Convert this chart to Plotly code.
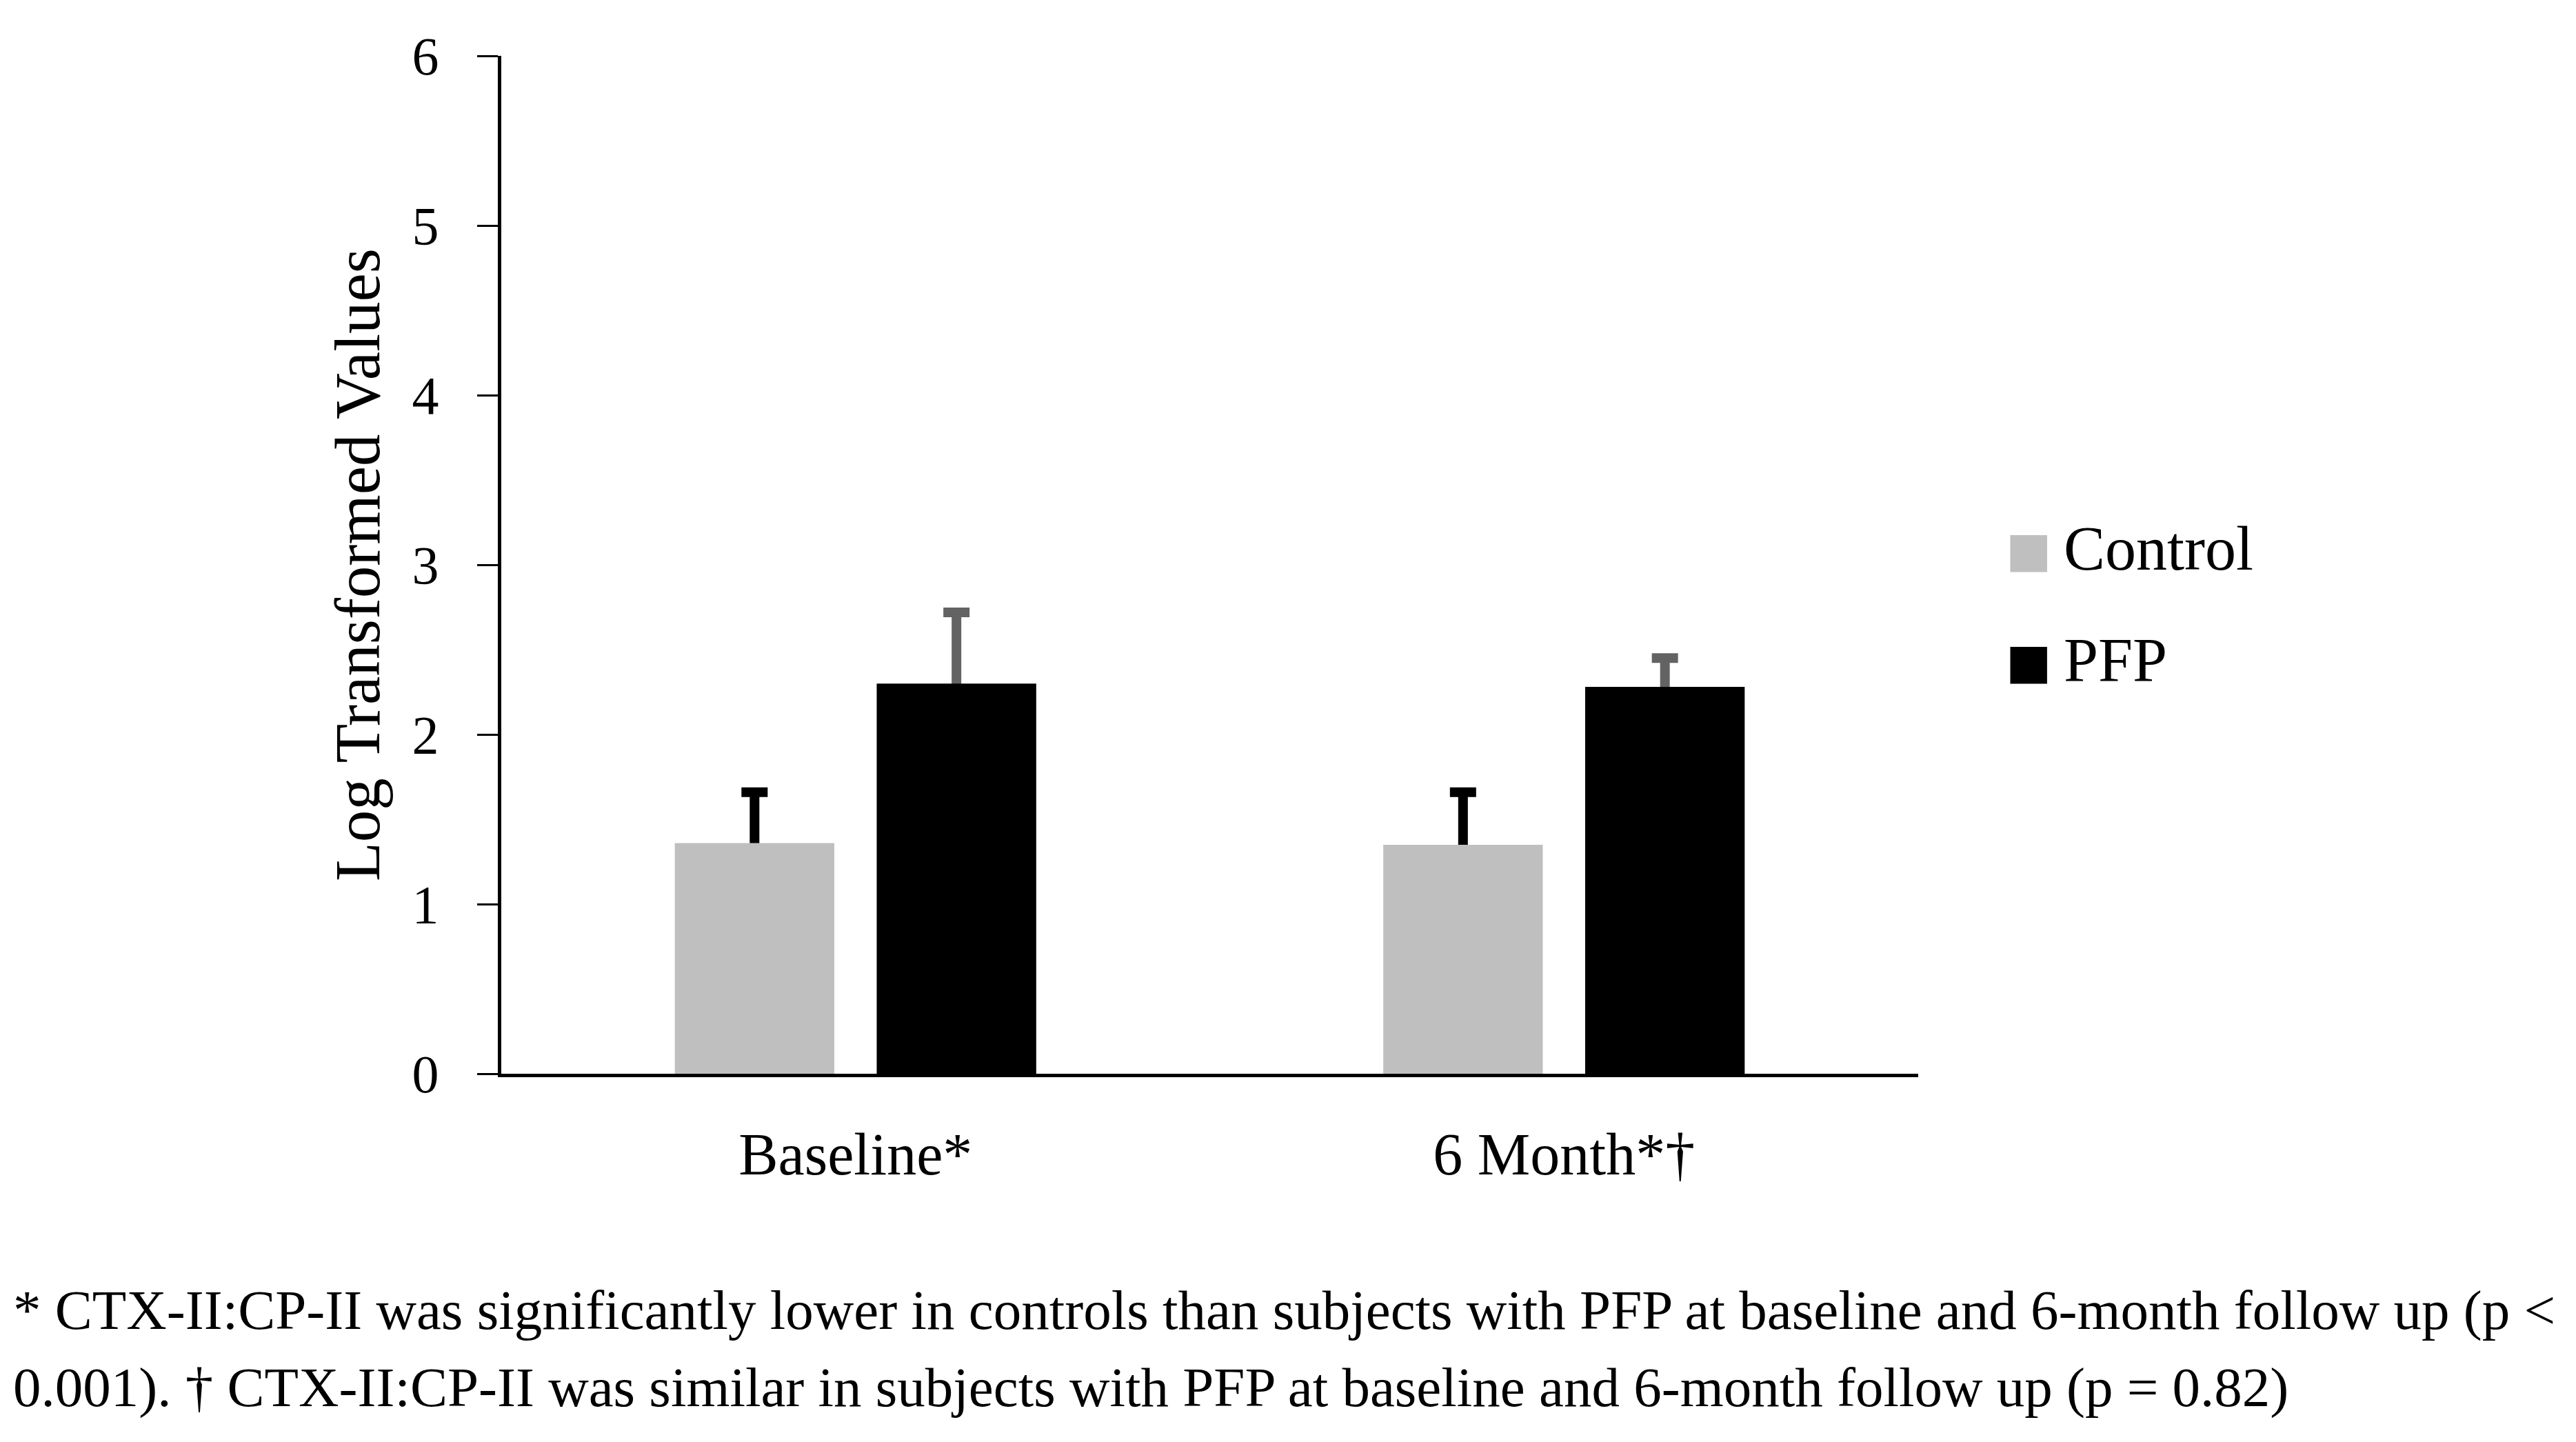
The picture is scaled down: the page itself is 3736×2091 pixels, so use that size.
import plotly.graph_objects as go

categories = ["Baseline*", "6 Month*†"]
series_names = ["Control", "PFP"]
control_values = [1.36, 1.35]
control_errors = [0.30, 0.31]
pfp_values = [2.30, 2.28]
pfp_errors = [0.42, 0.17]
y_ticks = [0, 1, 2, 3, 4, 5, 6]

CONTROL_COLOR = "#BFBFBF"
PFP_COLOR = "#000000"
CONTROL_ERR_COLOR = "#000000"
PFP_ERR_COLOR = "#636363"
FONT = "Liberation Serif"

# the page body has an 8px margin; the figure is sized to fit inside it
BODY = 8
W, H = 3736 - 2 * BODY, 2091 - 2 * BODY
# plot area in screen pixels
X0, X1, Y0, Y1 = 727, 2782, 81, 1557
L, T = X0 - BODY, Y0 - BODY
R = W - (X1 - BODY)
B = H - (Y1 - BODY)


def px_x(px):
    return (px - X0) / (X1 - X0)


def px_y(py):
    return (Y1 - py) / (Y1 - Y0)


fig = go.Figure()

specs = [
    ("control", series_names[0], control_values, control_errors, CONTROL_COLOR, CONTROL_ERR_COLOR),
    ("pfp", series_names[1], pfp_values, pfp_errors, PFP_COLOR, PFP_ERR_COLOR),
]

# error-bar carriers (drawn first so that the visible bars cover the lower part of the stems)
for grp, name, vals, errs, col, ecol in specs:
    fig.add_trace(go.Bar(
        x=categories, y=vals, name=name, offsetgroup=grp,
        marker=dict(color="rgba(0,0,0,0)", line=dict(width=0)),
        error_y=dict(type="data", symmetric=False, array=errs, arrayminus=vals,
                     color=ecol, thickness=14, width=19),
        showlegend=False, hoverinfo="skip",
    ))

for grp, name, vals, errs, col, ecol in specs:
    fig.add_trace(go.Bar(
        x=categories, y=vals, name=name, offsetgroup=grp,
        marker=dict(color=col, line=dict(width=0)),
        showlegend=False,
    ))

fig.update_layout(
    width=W, height=H,
    margin=dict(l=L, r=R, t=T, b=B, autoexpand=False),
    paper_bgcolor="white", plot_bgcolor="white",
    barmode="group", bargap=0.43, bargroupgap=0.21,
    font=dict(family=FONT, color="black", size=84),
    showlegend=False,
)

fig.update_xaxes(
    range=[-0.5, 1.5], showline=True, linecolor="black", linewidth=5,
    ticks="", showgrid=False, zeroline=False,
    tickfont=dict(family=FONT, size=86, color="black"),
    ticklabelstandoff=38,
)
fig.update_yaxes(
    range=[0, 6], tickvals=y_ticks, ticktext=[str(v) for v in y_ticks],
    showline=True, linecolor="black", linewidth=5,
    ticks="outside", ticklen=30, tickwidth=3, tickcolor="black",
    showgrid=False, zeroline=False,
    tickfont=dict(family=FONT, size=78, color="black"),
    ticklabelstandoff=40,
    title=dict(text="Log Transformed Values", font=dict(family=FONT, size=93, color="black"), standoff=17),
)

# legend drawn as text annotations
legend_rows = [(series_names[0], CONTROL_COLOR, 797, 795), (series_names[1], PFP_COLOR, 959, 957)]
for name, col, ysq, ytxt in legend_rows:
    fig.add_annotation(
        xref="paper", yref="paper", x=px_x(2942), y=px_y(ysq),
        text="■", showarrow=False, xanchor="center", yanchor="middle",
        font=dict(family="DejaVu Sans", size=70, color=col),
    )
    fig.add_annotation(
        xref="paper", yref="paper", x=px_x(2991), y=px_y(ytxt),
        text=name, showarrow=False, xanchor="left", yanchor="middle",
        font=dict(family=FONT, size=90, color="black"),
    )

footnotes = [
    "* CTX-II:CP-II was significantly lower in controls than subjects with PFP at baseline and 6-month follow up (p <",
    "0.001). † CTX-II:CP-II was similar in subjects with PFP at baseline and 6-month follow up (p = 0.82)",
]
for line, ypx in zip(footnotes, [1900, 2012]):
    fig.add_annotation(
        xref="paper", yref="paper", x=px_x(17), y=px_y(ypx),
        text=line, showarrow=False, xanchor="left", yanchor="middle",
        font=dict(family=FONT, size=81, color="black"),
    )

fig.write_html("out.html")
